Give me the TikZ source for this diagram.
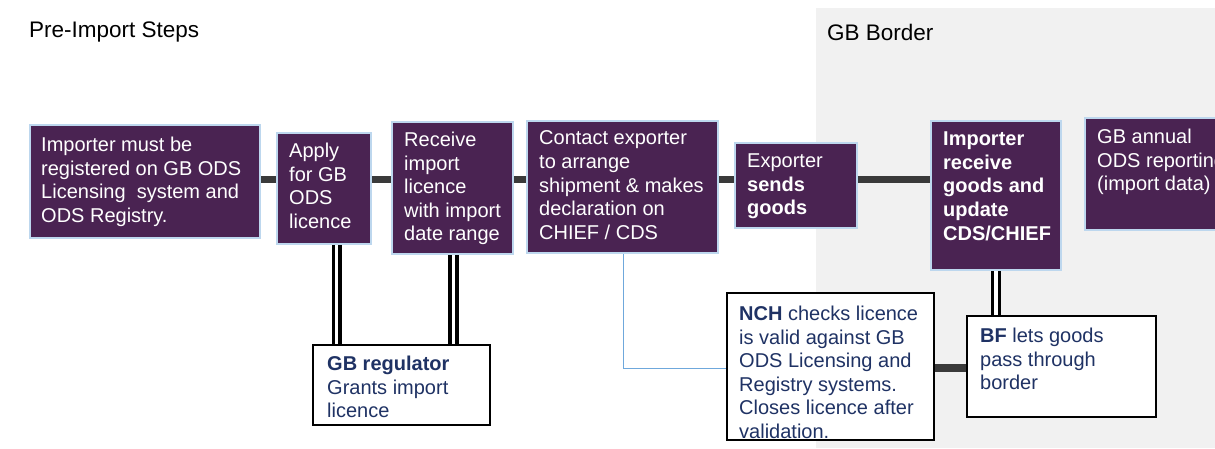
\documentclass[tikz,border=0pt]{standalone}
\usepackage{fontspec}
\setmainfont{Liberation Sans}
\definecolor{plum}{HTML}{4A2352}
\definecolor{edgeblue}{HTML}{BDD7EE}
\definecolor{navy}{HTML}{1F3264}
\definecolor{linkgray}{HTML}{3A3A3A}
\definecolor{bordergray}{HTML}{F1F1F1}
\definecolor{thinblue}{HTML}{6FA8DC}
\begin{document}
\begin{tikzpicture}[x=1pt,y=-1pt,
  pbox/.style={draw=edgeblue, line width=2pt, fill=plum, outer sep=0pt, inner sep=0pt, anchor=north west},
  wbox/.style={draw=black, line width=2pt, fill=white, outer sep=0pt, inner sep=0pt, anchor=north west},
  ptext/.style={anchor=north west, inner sep=0pt, align=left, text=white, font=\fontsize{20}{23.6}\selectfont, yshift=14.2pt, execute at begin node=\strut},
  wtext/.style={ptext, text=navy},
  link/.style={draw=linkgray, line width=7pt},
  dbl/.style={draw=black, double=white, line width=3.5pt, double distance=3.4pt},
  head/.style={anchor=base west, inner sep=0pt, font=\fontsize{22.5}{27}\selectfont}
]
\useasboundingbox (0,0) rectangle (1215,448);
\clip (0,0) rectangle (1215,448);
% GB border region
\fill[bordergray] (816,8) rectangle (1215,448);
\node[head] (h1) at (29,37.5) {Pre-Import Steps};
\node[head] (h2) at (827,40.5) {GB Border};

% boxes
\node[pbox, minimum width=230pt, minimum height=113pt] (b1) at (30,125) {};
\node[pbox, minimum width=94pt, minimum height=111pt] (b2) at (277,133) {};
\node[pbox, minimum width=121pt, minimum height=132pt] (b3) at (392,122) {};
\node[pbox, minimum width=191pt, minimum height=132pt] (b4) at (527,121) {};
\node[pbox, minimum width=122pt, minimum height=85pt] (b5) at (735,143) {};
\node[pbox, minimum width=130pt, minimum height=149pt] (b6) at (931,121) {};
\node[pbox, minimum width=150pt, minimum height=112pt] (b7) at (1085,118) {};

\node[wbox, minimum width=177pt, minimum height=80pt] (reg) at (313,345) {};
\node[wbox, minimum width=207pt, minimum height=147pt] (nch) at (727,293) {};
\node[wbox, minimum width=189pt, minimum height=101pt] (bf) at (967,316) {};

% connectors
\draw[link] (b1.east |- 0,179.5) -- (b2.west |- 0,179.5);
\draw[link] (b2.east |- 0,179.5) -- (b3.west |- 0,179.5);
\draw[link] (b3.east |- 0,179.5) -- (b4.west |- 0,179.5);
\draw[link] (b4.east |- 0,179.5) -- (b5.west |- 0,179.5);
\draw[link] (b5.east |- 0,179) -- (b6.west |- 0,179);
\draw[dbl] (b2.south -| 336.7,0) -- (reg.north -| 336.7,0);
\draw[dbl] (b3.south -| 453.5,0) -- (reg.north -| 453.5,0);
\draw[dbl] (b6.south -| 996,0) -- (bf.north -| 996,0);
\draw[thinblue, line width=1pt] (b4.south -| 623,0) |- (nch.west |- 0,368);
\draw[linkgray, line width=7.5pt] (nch.east |- 0,368) -- (bf.west |- 0,368);

% redraw box borders on top of connector ends
\foreach \n in {b1,b2,b3,b4,b5,b6,b7} {\draw[edgeblue, line width=2pt] (\n.north west) rectangle (\n.south east);}
\foreach \n in {reg,nch,bf} {\draw[black, line width=2pt] (\n.north west) rectangle (\n.south east);}

% texts (positions are first baselines)
\node[ptext] (t1) at (41,151) {Importer must be\\registered on GB ODS\\Licensing~ system and\\ODS Registry.};
\node[ptext] (t2) at (289,157) {Apply\\for GB\\ODS\\licence};
\node[ptext] (t3) at (404,146) {Receive\\import\\licence\\with import\\date range};
\node[ptext] (t4) at (539,145) {Contact exporter\\to arrange\\shipment \& makes\\declaration on\\CHIEF / CDS};
\node[ptext] (t5) at (747,168) {Exporter\\\textbf{sends}\\\textbf{goods}};
\node[ptext, font=\fontsize{20}{23.6}\selectfont\bfseries] (t6) at (943,146) {Importer\\receive\\goods and\\update\\CDS/CHIEF};
\node[ptext] (t7) at (1097,143) {GB annual\\ODS reporting\\(import data)};
\node[wtext] (t8) at (327,370) {\textbf{GB regulator}\\Grants import\\licence};
\node[wtext] (t9) at (739,320) {\textbf{NCH} checks licence\\is valid against GB\\ODS Licensing and\\Registry systems.\\Closes licence after\\validation.};
\node[wtext] (t10) at (980,342) {\textbf{BF} lets goods\\pass through\\border};
\end{tikzpicture}
\end{document}
